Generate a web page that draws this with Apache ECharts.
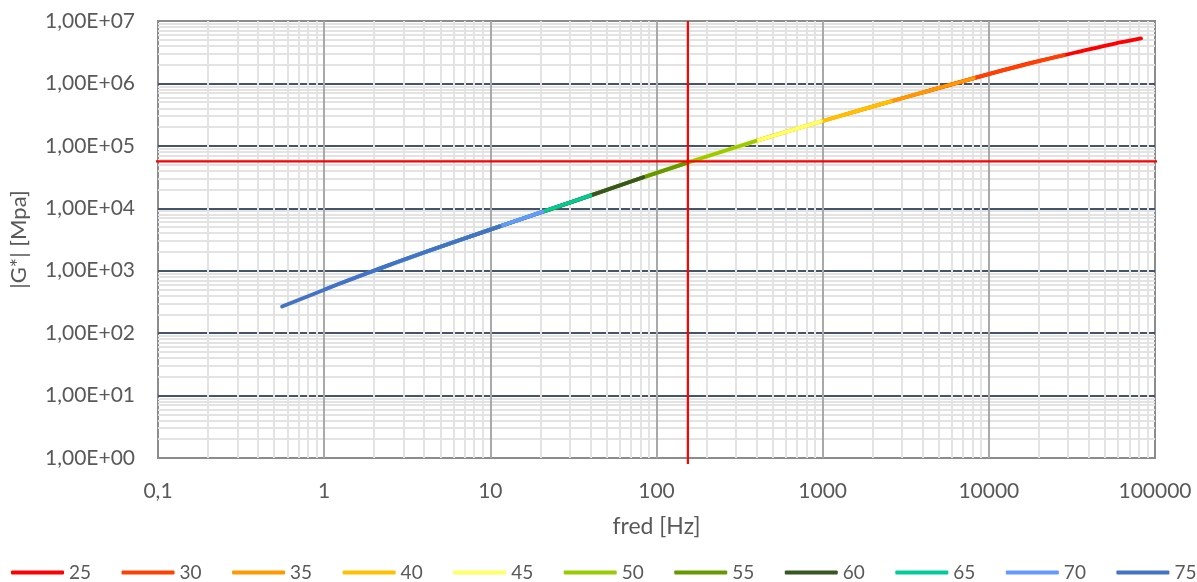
<!DOCTYPE html>
<html>
<head>
<meta charset="utf-8">
<script src="https://cdn.jsdelivr.net/npm/echarts@6/dist/echarts.min.js"></script>
<style>
html,body{margin:0;padding:0;background:#fff;}
#chart{width:1197px;height:582px;}
</style>
</head>
<body>
<div id="chart"></div>
<script>
// ---- data ----
const temps = ['25','30','35','40','45','50','55','60','65','70','75'];
const colors = ['#FF0000','#FF4000','#FF9900','#FFC000','#FFFF66','#99CC00','#669900','#375623','#00CC99','#6699FF','#4472C4'];

const freq25 = [4036, 8583, 18240, 38780, 56500, 82410];
const g25    = [721100, 1262000, 2151000, 3440000, 4310000, 5248000];
const freq30 = [1380, 2934, 6237, 13260, 28180];
const g30    = [320900, 569200, 995400, 1722000, 2850000];
const freq35 = [398, 846, 1799, 3824, 8128];
const g35    = [120200, 219800, 392600, 693400, 1211000];
const freq40 = [126, 268, 569, 1209, 2570];
const g40    = [45290, 86700, 160000, 290400, 514700];
const freq45 = [47.9, 102, 216, 460, 977];
const g45    = [18880, 37650, 72100, 134900, 246600];
const freq50 = [19.3, 41.1, 87.3, 186, 395];
const g50    = [8260, 16370, 32800, 63240, 119400];
const freq55 = [7.53, 16.0, 34.0, 72.4, 154];
const g55    = [3524, 6980, 13770, 27600, 53800];
const freq60 = [4.07, 8.66, 18.4, 39.1, 83.2];
const g60    = [2000, 4005, 7915, 15670, 31350];
const freq65 = [1.96, 4.17, 8.85, 18.8, 40.0];
const g65    = [982, 2042, 4083, 8090, 16000];
const freq70 = [1.01, 2.14, 4.55, 9.68, 20.6];
const g70    = [505, 1074, 2213, 4440, 8750];
const freq75 = [0.558, 1.19, 2.52, 5.36, 11.4];
const g75    = [267, 594, 1265, 2576, 5130];

const freqs = [freq25,freq30,freq35,freq40,freq45,freq50,freq55,freq60,freq65,freq70,freq75];
const gs    = [g25,g30,g35,g40,g45,g50,g55,g60,g65,g70,g75];

// reference crosshair
const refFreq = 154.5;
const refG = 56500;

// axis ticks
const xTickLabels = ['0,1','1','10','100','1000','10000','100000'];
const yTickLabels = ['1,00E+00','1,00E+01','1,00E+02','1,00E+03','1,00E+04','1,00E+05','1,00E+06','1,00E+07'];
const xMin = 0.1, xMax = 100000, yMin = 1, yMax = 10000000;

// ---- gridline values (axis structure) ----
const xMinor = [], yMinor = [], xMajorInner = [];
for (let e = -1; e < 5; e++) for (let m = 2; m <= 9; m++) xMinor.push(+(m * Math.pow(10, e)).toPrecision(3));
for (let e = 0; e < 7; e++) for (let m = 2; m <= 9; m++) yMinor.push(m * Math.pow(10, e));
for (let e = 0; e < 5; e++) xMajorInner.push(Math.pow(10, e));

const font = 'Lato';
const textColor = '#595959';

function gridSeries(z, color, width, data) {
  return {
    type: 'line', data: [], silent: true, z: z,
    markLine: {
      z: z, silent: true, symbol: 'none', animation: false,
      label: { show: false },
      emphasis: { disabled: true },
      lineStyle: { color: color, width: width, type: 'solid' },
      data: data
    }
  };
}

const series = [];
series.push(gridSeries(1, '#E3E3E3', 2, yMinor.map(v => ({ yAxis: v }))));
series.push(gridSeries(1.5, '#E3E3E3', 2, xMinor.map(v => ({ xAxis: v }))));
series.push(gridSeries(1.8, '#A9A9A9', 2, xMajorInner.map(v => ({ xAxis: v }))));

temps.forEach((t, i) => {
  series.push({
    name: t, type: 'line', z: 3, smooth: 0.3,
    showSymbol: false, symbol: 'none',
    lineStyle: { width: 3.8, color: colors[i], cap: 'round', join: 'round' },
    itemStyle: { color: colors[i] },
    emphasis: { disabled: true },
    data: freqs[i].map((f, k) => [f, gs[i][k]])
  });
});

// red crosshair lines (slightly overshoot plot, as in the reference)
series.push({
  type: 'line', z: 4, clip: false, silent: true, showSymbol: false, symbol: 'none',
  lineStyle: { color: '#FF0000', width: 2.2 },
  data: [[0.0895, refG], [102800, refG]]
});
series.push({
  type: 'line', z: 4, clip: false, silent: true, showSymbol: false, symbol: 'none',
  lineStyle: { color: '#FF0000', width: 2.2 },
  data: [[refFreq, yMax], [refFreq, 0.8]]
});

const chart = echarts.init(document.getElementById('chart'), null, { renderer: 'canvas' });
chart.setOption({
  animation: false,
  backgroundColor: '#ffffff',
  textStyle: { fontFamily: font },
  grid: {
    left: 158, top: 21, right: 42, bottom: 124,
    show: true, borderColor: '#8C8C8C', borderWidth: 2, backgroundColor: 'transparent',
    containLabel: false
  },
  legend: {
    data: temps,
    left: 11, top: 563, width: 1186, padding: 0,
    itemWidth: 53, itemHeight: 4, itemGap: 30.5,
    icon: 'roundRect',
    textStyle: { color: textColor, fontSize: 19, fontFamily: font }
  },
  xAxis: {
    type: 'log', logBase: 10, min: xMin, max: xMax, interval: 1, splitNumber: 6,
    name: 'fred [Hz]', nameLocation: 'middle', nameGap: 57,
    nameTextStyle: { color: textColor, fontSize: 23, fontFamily: font },
    axisLine: { show: false }, axisTick: { show: false },
    axisLabel: {
      color: textColor, fontSize: 21, fontFamily: font, margin: 23,
      formatter: v => xTickLabels[Math.round(Math.log10(v)) + 1]
    },
    splitLine: { show: false }
  },
  yAxis: {
    type: 'log', logBase: 10, min: yMin, max: yMax, interval: 1, splitNumber: 7,
    name: '|G*| [Mpa]', nameLocation: 'middle', nameGap: 128, nameRotate: 90,
    nameTextStyle: { color: textColor, fontSize: 22, fontFamily: font },
    axisLine: { show: false }, axisTick: { show: false },
    axisLabel: {
      color: textColor, fontSize: 21, fontFamily: font, margin: 23,
      formatter: v => yTickLabels[Math.round(Math.log10(v))]
    },
    splitLine: { show: true, showMinLine: false, showMaxLine: false, lineStyle: { color: '#44546A', width: 2 } }
  },
  series: series
});
</script>
</body>
</html>
